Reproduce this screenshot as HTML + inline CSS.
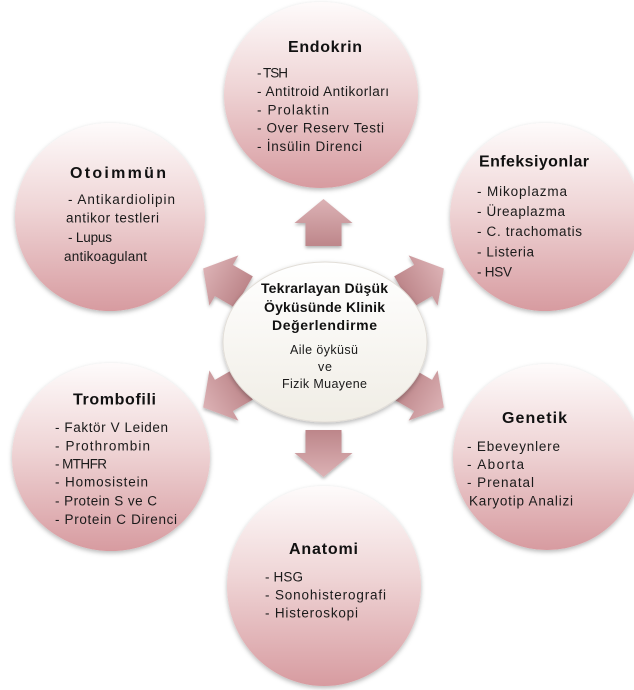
<!DOCTYPE html>
<html>
<head>
<meta charset="utf-8">
<style>
  html, body { margin: 0; padding: 0; background: #ffffff; }
  svg { display: block; }
  .t { font-family: "Liberation Sans", Arial, sans-serif; font-weight: bold; font-size: 16px; fill: #111; }
  .i { font-family: "Liberation Sans", Arial, sans-serif; font-size: 13.5px; fill: #1a1a1a; }
  .ct { font-family: "Liberation Sans", Arial, sans-serif; font-weight: bold; font-size: 14px; fill: #111; }
  .ci { font-family: "Liberation Sans", Arial, sans-serif; font-size: 12.5px; fill: #1a1a1a; }
</style>
</head>
<body>
<svg width="634" height="690" viewBox="0 0 634 690" xmlns="http://www.w3.org/2000/svg">
  <defs>
    <linearGradient id="cg" x1="0" y1="0" x2="0" y2="1">
      <stop offset="0" stop-color="#fefbfb"/>
      <stop offset="0.45" stop-color="#efd5d6"/>
      <stop offset="1" stop-color="#d79ba0"/>
    </linearGradient>
    <linearGradient id="eg" x1="0" y1="0" x2="0" y2="1">
      <stop offset="0" stop-color="#ffffff"/>
      <stop offset="1" stop-color="#f0ede5"/>
    </linearGradient>
    <linearGradient id="ag" x1="0" y1="0" x2="0" y2="1">
      <stop offset="0" stop-color="#dcb2b5"/>
      <stop offset="1" stop-color="#bd868a"/>
    </linearGradient>
    <filter id="sh" x="-20%" y="-20%" width="140%" height="140%">
      <feDropShadow dx="0" dy="2" stdDeviation="2.5" flood-color="#000" flood-opacity="0.28"/>
    </filter>
    <filter id="sh2" x="-30%" y="-30%" width="160%" height="160%">
      <feDropShadow dx="0" dy="2" stdDeviation="1.5" flood-color="#000" flood-opacity="0.3"/>
    </filter>
  </defs>

  <!-- Outer circles -->
  <ellipse cx="321" cy="95" rx="97" ry="93" fill="url(#cg)" filter="url(#sh)"/>
  <ellipse cx="545" cy="217" rx="95" ry="94" fill="url(#cg)" filter="url(#sh)"/>
  <ellipse cx="547" cy="457" rx="94" ry="93" fill="url(#cg)" filter="url(#sh)"/>
  <ellipse cx="324" cy="586" rx="97" ry="100" fill="url(#cg)" filter="url(#sh)"/>
  <ellipse cx="111" cy="457" rx="99" ry="94" fill="url(#cg)" filter="url(#sh)"/>
  <ellipse cx="110" cy="217" rx="95" ry="94" fill="url(#cg)" filter="url(#sh)"/>

  <!-- Arrows -->
  <g fill="url(#ag)" filter="url(#sh2)">
    <path d="M323.5,199 L352.5,223 L341.5,223 L341.5,246 L305.5,246 L305.5,223 L294.5,223 Z"/>
    <path d="M323.5,199 L352.5,223 L341.5,223 L341.5,246 L305.5,246 L305.5,223 L294.5,223 Z" transform="rotate(60 323.5 338)"/>
    <path d="M323.5,199 L352.5,223 L341.5,223 L341.5,246 L305.5,246 L305.5,223 L294.5,223 Z" transform="rotate(120 323.5 338)"/>
    <path d="M323.5,199 L352.5,223 L341.5,223 L341.5,246 L305.5,246 L305.5,223 L294.5,223 Z" transform="rotate(180 323.5 338)"/>
    <path d="M323.5,199 L352.5,223 L341.5,223 L341.5,246 L305.5,246 L305.5,223 L294.5,223 Z" transform="rotate(240 323.5 338)"/>
    <path d="M323.5,199 L352.5,223 L341.5,223 L341.5,246 L305.5,246 L305.5,223 L294.5,223 Z" transform="rotate(300 323.5 338)"/>
  </g>

  <!-- Center ellipse -->
  <ellipse cx="325" cy="342" rx="102" ry="80" fill="url(#eg)" stroke="#e2ded8" stroke-width="1" filter="url(#sh)"/>

  <!-- Endokrin -->
  <text class="t" x="288" y="52" textLength="74" lengthAdjust="spacing">Endokrin</text>
  <text class="i" x="257" y="77.5" textLength="31" lengthAdjust="spacing">- TSH</text>
  <text class="i" x="257" y="96" textLength="132" lengthAdjust="spacing">- Antitroid Antikorları</text>
  <text class="i" x="257" y="114.5" textLength="72" lengthAdjust="spacing">- Prolaktin</text>
  <text class="i" x="257" y="132.5" textLength="127" lengthAdjust="spacing">- Over Reserv Testi</text>
  <text class="i" x="257" y="151" textLength="105" lengthAdjust="spacing">- İnsülin Direnci</text>

  <!-- Otoimmün -->
  <text class="t" x="70" y="178" textLength="96" lengthAdjust="spacing">Otoimmün</text>
  <text class="i" x="68" y="204" textLength="107" lengthAdjust="spacing">- Antikardiolipin</text>
  <text class="i" x="66" y="222.5" textLength="93" lengthAdjust="spacing">antikor testleri</text>
  <text class="i" x="68" y="242" textLength="44" lengthAdjust="spacing">- Lupus</text>
  <text class="i" x="64" y="261" textLength="83" lengthAdjust="spacing">antikoagulant</text>

  <!-- Enfeksiyonlar -->
  <text class="t" x="479" y="166.5" textLength="110" lengthAdjust="spacing">Enfeksiyonlar</text>
  <text class="i" x="477" y="196" textLength="90" lengthAdjust="spacing">- Mikoplazma</text>
  <text class="i" x="477" y="216" textLength="88" lengthAdjust="spacing">- Üreaplazma</text>
  <text class="i" x="477" y="236" textLength="105" lengthAdjust="spacing">- C. trachomatis</text>
  <text class="i" x="477" y="256.5" textLength="57" lengthAdjust="spacing">- Listeria</text>
  <text class="i" x="477" y="276.5" textLength="35" lengthAdjust="spacing">- HSV</text>

  <!-- Genetik -->
  <text class="t" x="502" y="423" textLength="65" lengthAdjust="spacing">Genetik</text>
  <text class="i" x="467" y="451" textLength="93" lengthAdjust="spacing">- Ebeveynlere</text>
  <text class="i" x="467" y="469" textLength="57" lengthAdjust="spacing">- Aborta</text>
  <text class="i" x="467" y="487" textLength="67" lengthAdjust="spacing">- Prenatal</text>
  <text class="i" x="469" y="505.5" textLength="104" lengthAdjust="spacing">Karyotip Analizi</text>

  <!-- Trombofili -->
  <text class="t" x="73" y="404.5" textLength="83" lengthAdjust="spacing">Trombofili</text>
  <text class="i" x="55" y="432" textLength="113" lengthAdjust="spacing">- Faktör V Leiden</text>
  <text class="i" x="55" y="450.5" textLength="95" lengthAdjust="spacing">- Prothrombin</text>
  <text class="i" x="55" y="468.5" textLength="52" lengthAdjust="spacing">- MTHFR</text>
  <text class="i" x="55" y="486.5" textLength="93" lengthAdjust="spacing">- Homosistein</text>
  <text class="i" x="55" y="505.5" textLength="102" lengthAdjust="spacing">- Protein S ve C</text>
  <text class="i" x="55" y="524" textLength="122" lengthAdjust="spacing">- Protein C Direnci</text>

  <!-- Anatomi -->
  <text class="t" x="289" y="554" textLength="69" lengthAdjust="spacing">Anatomi</text>
  <text class="i" x="265" y="581.5" textLength="38" lengthAdjust="spacing">- HSG</text>
  <text class="i" x="265" y="599.5" textLength="121" lengthAdjust="spacing">- Sonohisterografi</text>
  <text class="i" x="265" y="617.5" textLength="93" lengthAdjust="spacing">- Histeroskopi</text>

  <!-- Center -->
  <text class="ct" x="261" y="293" textLength="127" lengthAdjust="spacing">Tekrarlayan Düşük</text>
  <text class="ct" x="264" y="312" textLength="121" lengthAdjust="spacing">Öyküsünde Klinik</text>
  <text class="ct" x="272" y="330" textLength="105" lengthAdjust="spacing">Değerlendirme</text>
  <text class="ci" x="290" y="354" textLength="68" lengthAdjust="spacing">Aile öyküsü</text>
  <text class="ci" x="318" y="371" textLength="14" lengthAdjust="spacing">ve</text>
  <text class="ci" x="282" y="388" textLength="85" lengthAdjust="spacing">Fizik Muayene</text>
</svg>
</body>
</html>
